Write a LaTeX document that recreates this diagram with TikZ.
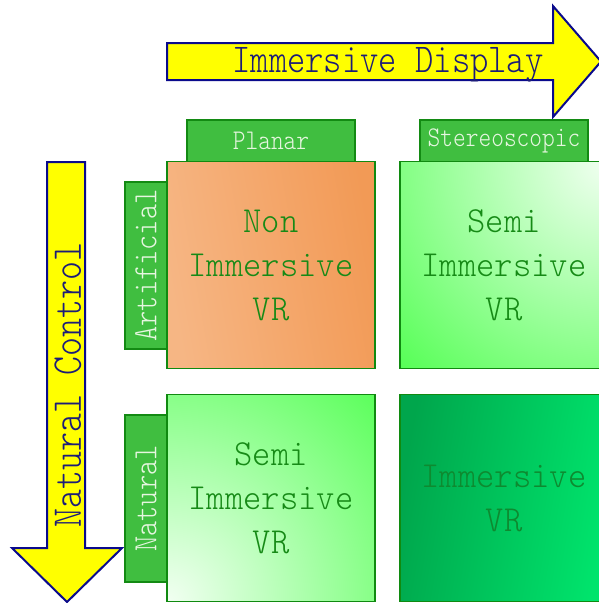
\documentclass[tikz,border=0pt]{standalone}
\usepackage{fontspec}
\newfontfamily\headfont[FakeStretch=0.85]{lmmonolt10-regular.otf}
\newfontfamily\cellfont[FakeStretch=0.95]{lmmonolt10-regular.otf}
\definecolor{arrowfill}{HTML}{FFFF00}
\definecolor{arrowline}{HTML}{0A0A8C}
\definecolor{arrowtext}{HTML}{1C1C78}
\definecolor{tabfill}{HTML}{40BE40}
\definecolor{tabline}{HTML}{138A13}
\definecolor{tabtext}{HTML}{E6F6E0}
\definecolor{boxline}{HTML}{108A10}
\definecolor{celltext}{HTML}{168A16}
\definecolor{darktext}{HTML}{0E8A30}
\definecolor{orangeA}{HTML}{F6B684}
\definecolor{orangeB}{HTML}{F29A56}
\definecolor{limeG}{HTML}{58FF58}
\definecolor{paleG}{HTML}{F2FFF2}
\definecolor{deepA}{HTML}{00A64C}
\definecolor{deepB}{HTML}{00E46C}
\tikzset{
  bigarrow/.style={fill=arrowfill, draw=arrowline, line width=2pt, line join=miter},
  arrowlabel/.style={text=arrowtext, inner sep=0pt},
  tabbox/.style={fill=tabfill, draw=tabline, line width=1.3pt, inner sep=0pt,
    text=tabtext},
  cell/.style={draw=boxline, line width=1.5pt, inner sep=0pt, align=center,
    minimum width=208pt, minimum height=207pt, text=celltext,
    font=\cellfont\fontsize{36.7}{44}\selectfont},
  glowNE/.style={path picture={
    \fill[limeG] (path picture bounding box.south west) rectangle (path picture bounding box.north east);
    \shade[inner color=paleG, outer color=limeG] (path picture bounding box.north east) circle (290pt);}},
  glowSW/.style={path picture={
    \fill[limeG] (path picture bounding box.south west) rectangle (path picture bounding box.north east);
    \shade[inner color=paleG, outer color=limeG] (path picture bounding box.south west) circle (300pt);}}
}
\begin{document}
\begin{tikzpicture}[x=1pt, y=-1pt]
\useasboundingbox (0,0) rectangle (598,603);

% horizontal axis arrow
\draw[bigarrow] (167,43) -- (553,43) -- (553,6) -- (601,61.5) -- (553,117)
  -- (553,80) -- (167,80) -- cycle;
\node[arrowlabel, anchor=base, font=\headfont\fontsize{41}{44}\selectfont] (display) at (388,72) {Immersive Display};

% vertical axis arrow
\draw[bigarrow] (47,162) -- (85,162) -- (85,548) -- (122,548) -- (67,602)
  -- (12,548) -- (47,548) -- cycle;
\node[arrowlabel, rotate=90, font=\headfont\fontsize{42.5}{44}\selectfont] (control) at (68,385) {Natural Control};

% column headers
\node[tabbox, minimum width=168pt, minimum height=42pt,
  font=\headfont\fontsize{28.5}{30}\selectfont] (planar) at (271,141) {Planar};
\node[tabbox, minimum width=168pt, minimum height=42pt,
  font=\headfont\fontsize{28.5}{30}\selectfont] (stereo) at (504,141) {Stereoscopic};

% row headers
\node[tabbox, rotate=90, minimum width=167pt, minimum height=42pt,
  font=\headfont\fontsize{34}{36}\selectfont] (artificial) at (146,265.5) {Artificial};
\node[tabbox, rotate=90, minimum width=167pt, minimum height=42pt,
  font=\headfont\fontsize{34}{36}\selectfont] (natural) at (146,498.5) {Natural};

% the four cells
\node[cell, left color=orangeA, right color=orangeB, shading angle=100] (nonvr) at (271,265)
  {Non\\Immersive\\VR};
\node[cell, glowNE] (semitop) at (504,265) {Semi\\Immersive\\VR};
\node[cell, glowSW] (semibottom) at (271,498) {Semi\\Immersive\\VR};
\node[cell, left color=deepA, right color=deepB, shading angle=80, text=darktext] (fullvr) at (504,498)
  {Immersive\\VR};
\end{tikzpicture}
\end{document}
